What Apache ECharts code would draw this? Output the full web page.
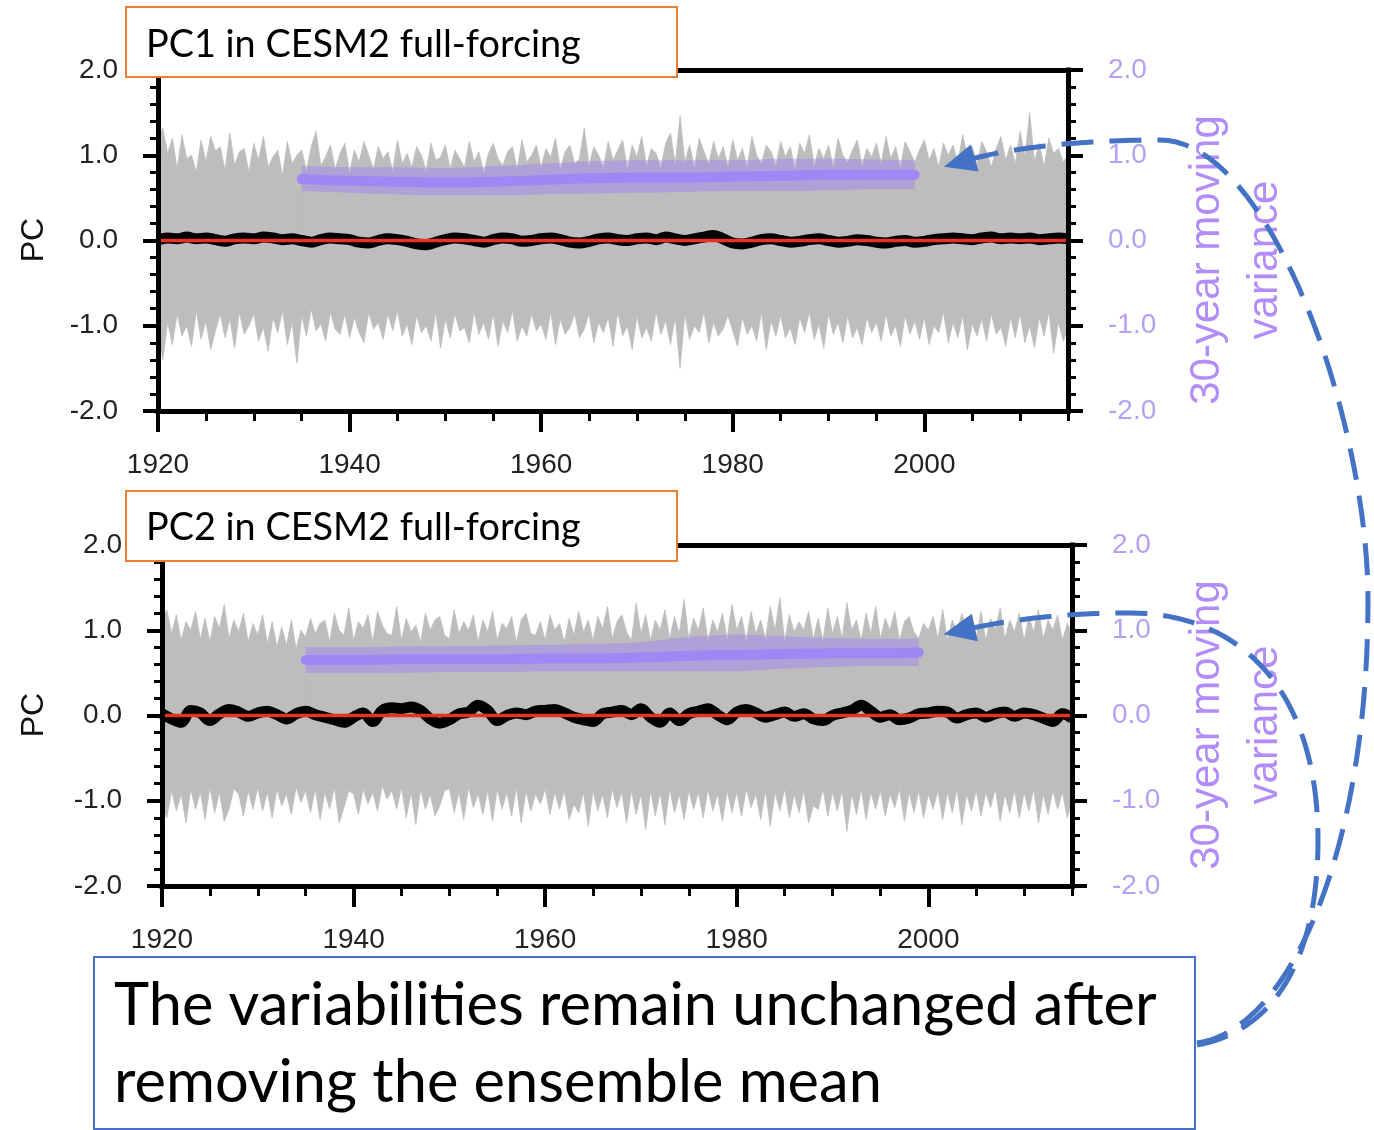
<!DOCTYPE html>
<html><head><meta charset="utf-8">
<script src="https://cdn.jsdelivr.net/npm/echarts@6/dist/echarts.min.js"></script>
<style>html,body{margin:0;padding:0;background:#fff}#c{width:1374px;height:1130px}</style>
</head><body><div id="c"></div>
<script>
// ---------------- data ----------------
const startYear = 1920, endYear = 2015;
const xTickLabels = [1920, 1940, 1960, 1980, 2000];
const yTickValues = [-2, -1, 0, 1, 2];
const panelTitles = ['PC1 in CESM2 full-forcing', 'PC2 in CESM2 full-forcing'];
const rightAxisTitle = '30-year moving\nvariance';
const leftAxisTitle = 'PC';
const noteLines = ['The variabilities remain unchanged after', 'removing the ensemble mean'];

// ensemble spread envelope (half-year steps, 1920.0 ... 2015.0)
const pc1Upper = [
1.15,1.32,1.02,1.20,0.84,1.24,0.96,1.00,0.80,1.18,
0.92,1.22,1.05,1.10,0.82,1.26,0.88,1.04,1.08,0.80,
1.14,0.94,1.22,0.86,0.98,1.06,0.76,1.16,0.90,1.00,
1.06,0.82,1.10,1.28,0.88,0.98,1.12,0.84,1.02,1.14,
0.80,1.06,0.92,1.16,1.00,0.84,1.10,0.96,1.04,0.82,
1.18,0.90,1.02,0.86,1.10,1.00,0.82,1.14,0.94,0.98,
1.12,0.84,1.06,0.96,0.86,1.16,0.92,1.04,0.80,1.02,
1.14,0.96,0.88,1.04,1.10,0.84,1.18,0.92,1.00,1.12,
0.86,1.08,0.98,1.20,0.84,1.04,1.12,0.90,0.96,1.32,
0.88,1.10,1.00,0.86,1.16,0.94,1.06,1.18,0.84,1.12,
0.98,1.22,0.88,1.08,1.02,0.86,1.14,1.26,0.90,1.46,
0.92,1.12,0.86,1.20,1.04,0.90,1.16,0.96,1.10,0.86,
1.18,0.94,1.08,0.86,1.22,1.00,0.90,1.12,1.04,0.88,
1.16,0.98,1.10,0.84,1.14,1.02,1.24,0.88,1.08,0.96,
1.12,0.86,1.20,1.00,0.92,1.06,1.18,0.88,1.08,0.98,
1.14,0.90,1.22,0.96,1.10,0.86,1.16,1.04,0.92,1.06,
1.18,0.94,1.08,0.86,1.14,1.00,1.12,0.90,1.24,0.98,
1.10,0.88,1.16,1.04,0.86,1.08,1.22,0.94,1.12,0.90,
1.28,0.98,1.50,0.92,1.14,0.86,1.20,1.02,1.08,0.92,
1.00];
const pc1Lower = [
-1.08,-1.40,-0.96,-1.22,-0.86,-1.12,-1.00,-1.24,-0.82,-1.16,
-0.94,-1.28,-1.06,-0.86,-1.14,-0.92,-1.26,-0.84,-1.10,-1.00,
-0.86,-1.18,-1.02,-1.30,-0.90,-1.08,-0.82,-1.22,-0.96,-1.44,
-0.88,-1.12,-0.80,-1.06,-0.98,-1.18,-0.84,-1.04,-1.10,-0.86,
-1.14,-0.90,-1.08,-1.20,-0.84,-1.04,-0.96,-1.16,-0.86,-1.06,
-0.82,-1.12,-0.98,-1.22,-0.88,-1.08,-1.00,-1.18,-0.84,-1.26,
-0.92,-1.14,-0.86,-1.06,-1.02,-1.20,-0.84,-1.10,-0.96,-1.16,
-0.86,-1.24,-0.94,-1.08,-0.82,-1.18,-1.00,-1.12,-0.86,-1.06,
-0.98,-1.16,-0.84,-1.22,-0.92,-1.10,-1.02,-0.86,-1.14,-1.04,
-0.86,-1.20,-0.96,-1.08,-0.90,-1.24,-0.84,-1.12,-1.00,-1.28,
-0.88,-1.14,-1.02,-1.18,-0.84,-1.10,-0.94,-1.22,-0.90,-1.50,
-0.86,-1.16,-1.00,-1.08,-0.84,-1.20,-0.96,-1.12,-1.04,-0.88,
-1.06,-1.24,-0.90,-1.10,-1.00,-1.18,-0.84,-1.28,-0.94,-1.12,
-0.88,-1.14,-1.02,-1.22,-0.90,-1.08,-0.84,-1.16,-0.98,-1.26,
-0.86,-1.10,-0.96,-1.20,-0.88,-1.14,-1.02,-1.22,-0.90,-1.08,
-0.96,-1.18,-0.86,-1.12,-1.00,-1.24,-0.88,-1.10,-0.94,-1.16,
-0.90,-1.22,-1.00,-1.08,-0.84,-1.20,-0.96,-1.14,-0.88,-1.28,
-0.98,-1.12,-0.92,-1.18,-0.86,-1.10,-1.02,-1.24,-0.90,-1.14,
-0.86,-1.20,-1.00,-1.26,-0.90,-1.12,-0.84,-1.32,-0.96,-1.18,
-1.02];
const pc2Upper = [
1.08,1.24,0.96,1.18,0.88,1.10,1.00,1.22,0.90,1.14,
0.86,1.16,1.02,1.30,0.90,1.12,0.98,1.20,0.86,1.08,
0.94,1.18,0.84,1.10,0.80,1.04,0.82,1.12,0.78,1.00,
0.92,1.14,0.96,1.08,1.12,0.86,1.20,1.00,0.94,1.26,
0.88,1.10,1.02,1.18,0.86,1.22,1.06,0.96,0.94,1.28,
0.88,1.14,0.98,1.06,0.86,1.20,1.00,1.12,1.16,0.94,
0.90,1.24,0.96,1.10,1.00,1.18,0.86,1.12,0.98,1.22,
0.88,1.08,1.02,1.16,0.86,1.12,1.20,0.96,0.94,1.10,
0.88,1.18,1.00,1.08,0.86,1.14,0.94,1.22,0.98,1.12,
0.88,1.16,1.02,1.28,0.90,1.10,1.18,0.98,0.88,1.32,
0.96,1.18,0.88,1.12,1.00,1.24,0.90,1.16,0.96,1.36,
0.90,1.14,1.00,1.26,0.88,1.12,0.98,1.20,0.90,1.30,
1.00,1.16,0.88,1.22,0.96,1.12,0.90,1.28,1.00,1.38,
0.88,1.18,0.98,1.10,1.00,1.22,0.90,1.14,0.88,1.26,
0.96,1.16,0.90,1.32,1.00,1.12,0.88,1.20,0.96,1.28,
0.90,1.14,1.00,1.22,0.88,1.10,1.16,0.98,0.90,1.08,
1.00,1.16,0.90,1.24,0.88,1.12,0.98,1.20,1.00,1.10,
0.90,1.22,0.88,1.14,1.00,1.26,0.90,1.12,0.98,1.20,
0.88,1.16,0.98,1.24,0.90,1.12,1.00,1.18,0.88,1.08,
0.98];
const pc2Lower = [
-1.00,-1.20,-0.88,-1.12,-0.92,-1.26,-0.86,-1.10,-0.90,-1.22,
-0.84,-1.14,-0.90,-1.24,-1.10,-0.86,-0.92,-1.18,-0.88,-1.10,
-0.84,-1.12,-0.90,-1.20,-0.86,-1.06,-0.92,-1.16,-0.84,-1.02,
-0.88,-1.14,-0.86,-1.22,-0.90,-1.10,-0.84,-1.26,-1.08,-0.88,
-0.92,-1.16,-0.86,-1.04,-0.90,-1.12,-0.82,-0.98,-0.88,-1.10,
-0.84,-1.20,-0.90,-1.28,-0.86,-1.10,-0.92,-1.18,-1.06,-0.88,
-0.86,-1.14,-0.90,-1.22,-0.84,-1.08,-0.92,-1.16,-0.88,-1.24,
-0.86,-1.10,-0.90,-1.18,-0.84,-1.26,-0.88,-1.12,-0.92,-1.04,
-0.86,-1.16,-0.90,-1.10,-0.88,-1.22,-1.04,-1.14,-0.90,-1.30,
-0.88,-1.12,-0.92,-1.20,-0.86,-1.08,-0.90,-1.26,-0.88,-1.16,
-0.92,-1.34,-0.88,-1.18,-0.90,-1.28,-0.86,-1.14,-0.92,-1.22,
-0.88,-1.10,-0.90,-1.20,-0.86,-1.12,-0.92,-1.24,-0.88,-1.14,
-0.90,-1.18,-0.86,-1.08,-0.92,-1.22,-0.88,-1.30,-0.90,-1.12,
-0.86,-1.20,-0.92,-1.14,-0.88,-1.26,-1.06,-1.10,-0.86,-1.18,
-0.90,-1.12,-0.88,-1.36,-0.92,-1.16,-0.86,-1.22,-0.90,-1.10,
-0.88,-1.18,-0.92,-1.08,-0.86,-1.24,-0.90,-1.14,-0.88,-1.20,
-0.92,-1.10,-0.88,-1.22,-0.90,-1.14,-0.86,-1.28,-0.92,-1.12,
-0.88,-1.18,-0.90,-1.08,-0.86,-1.24,-0.92,-1.14,-0.88,-1.20,
-0.90,-1.12,-0.86,-1.26,-0.92,-1.16,-0.88,-1.10,-0.90,-1.20,
-1.00];

// ensemble-mean residual (annual, 1920 ... 2015)
const pc1Mean = [
0.01,0.03,0.02,0.04,0.02,0.03,0.01,-0.01,0.02,0.03,
0.02,0.04,0.03,0.01,0.02,0.00,-0.02,0.01,0.03,0.02,
0.01,-0.02,-0.03,0.00,0.02,0.01,-0.01,-0.04,-0.05,-0.02,
0.01,0.03,0.02,0.00,-0.02,0.01,0.03,0.02,-0.01,0.00,
0.02,0.03,0.01,-0.02,-0.03,-0.01,0.02,0.03,0.01,0.00,
0.02,0.03,0.01,0.04,0.02,0.00,0.02,0.04,0.06,0.02,
-0.03,-0.04,-0.02,0.01,0.02,0.00,-0.02,-0.01,0.01,0.02,
0.00,-0.02,-0.01,0.01,0.00,-0.02,-0.03,-0.01,0.00,-0.02,
-0.01,0.01,0.02,0.03,0.02,0.01,0.03,0.04,0.02,0.03,
0.02,0.03,0.01,0.02,0.03,0.02];
const pc2Mean = [
0.02,-0.04,-0.08,0.06,0.03,-0.06,0.02,0.07,0.04,-0.01,
0.03,0.05,0.01,-0.04,0.02,0.05,0.01,-0.02,-0.05,-0.08,
-0.02,0.03,-0.07,0.06,0.09,0.08,0.10,0.06,-0.04,-0.09,
-0.05,0.02,0.04,0.12,0.06,-0.06,0.00,0.03,0.01,0.05,
0.06,0.07,0.03,-0.02,-0.05,-0.07,0.02,0.04,0.06,0.01,
0.08,-0.02,-0.08,0.03,-0.06,0.02,0.05,0.08,0.01,-0.05,
0.04,0.07,0.03,-0.02,0.01,0.04,-0.01,0.02,-0.04,-0.06,
0.00,0.03,0.06,0.12,0.05,-0.02,0.01,-0.05,-0.03,0.02,
0.03,0.05,0.04,-0.03,0.01,0.03,-0.02,0.02,0.04,-0.01,
0.03,0.01,-0.03,-0.07,0.02,-0.03];

// 30-year moving variance (right axis)
const varYears = [1935,1940,1945,1950,1955,1960,1965,1970,1975,1980,1985,1990,1995,1999];
const pc1Var     = [0.72,0.70,0.69,0.68,0.69,0.71,0.73,0.74,0.74,0.75,0.76,0.77,0.77,0.77];
const pc1VarHigh = [0.87,0.86,0.86,0.85,0.87,0.90,0.93,0.94,0.94,0.94,0.96,0.96,0.95,0.94];
const pc1VarLow  = [0.58,0.56,0.54,0.53,0.53,0.54,0.55,0.56,0.57,0.58,0.58,0.59,0.60,0.60];
const pc2Var     = [0.65,0.65,0.66,0.66,0.66,0.67,0.67,0.68,0.70,0.71,0.72,0.73,0.73,0.74];
const pc2VarHigh = [0.80,0.80,0.81,0.81,0.82,0.83,0.84,0.86,0.92,0.95,0.93,0.91,0.90,0.90];
const pc2VarLow  = [0.50,0.50,0.50,0.51,0.51,0.52,0.52,0.52,0.52,0.52,0.55,0.57,0.58,0.58];

const zeroLine = [[startYear, 0], [endYear, 0]];

// ---------------- helpers ----------------
const halfYear = v => v.map((y, i) => [startYear + i * 0.5, y]);
const annual = v => v.map((y, i) => [startYear + i, y]);
const byVarYear = v => v.map((y, i) => [varYears[i], y]);

const panels = [
  {up: pc1Upper, lo: pc1Lower, mean: pc1Mean, v: pc1Var, vh: pc1VarHigh, vl: pc1VarLow,
   grid: {left: 158, top: 70}, boxY: 7, titleY: 45, pcY: 240, rtY: 260},
  {up: pc2Upper, lo: pc2Lower, mean: pc2Mean, v: pc2Var, vh: pc2VarHigh, vl: pc2VarLow,
   grid: {left: 162, top: 545}, boxY: 491, titleY: 528, pcY: 715, rtY: 725}
];
const PLOT_W = 910, PLOT_H = 341;
const AXIS_FONT = 'Liberation Sans, Arial, Helvetica, sans-serif';
const SLIDE_FONT = 'Lato, Carlito, Calibri, "Noto Sans", sans-serif';
const labelColor = '#222';
const purpleText = '#b28cf7';
const purpleLabel = '#b6a0f4';
const arrowBlue = '#4472C4';
const spreadGray = '#bdbdbd';

function fitSize(text, family, targetW) {
  const ctx = document.createElement('canvas').getContext('2d');
  ctx.font = '100px ' + family;
  return 100 * targetW / ctx.measureText(text).width;
}

const grids = [], xAxes = [], yAxes = [], series = [];
panels.forEach((p, g) => {
  grids.push({left: p.grid.left, top: p.grid.top, width: PLOT_W, height: PLOT_H, containLabel: false});
  const frame = {show: true, onZero: false, lineStyle: {color: '#000', width: 5, cap: 'square'}};
  xAxes.push({type: 'value', gridIndex: g, position: 'bottom', min: startYear, max: endYear, interval: 5,
    axisLine: frame, axisTick: {show: true, length: 10, lineStyle: {color: '#000', width: 3}},
    axisLabel: {show: false}, splitLine: {show: false}, z: 10});
  xAxes.push({type: 'value', gridIndex: g, position: 'bottom', min: startYear, max: endYear, interval: 20,
    axisLine: {show: false, onZero: false},
    axisTick: {show: true, length: 21, customValues: xTickLabels, lineStyle: {color: '#000', width: 4}},
    axisLabel: {show: true, customValues: xTickLabels, margin: 40, fontSize: 28, color: labelColor,
      fontFamily: AXIS_FONT, formatter: v => (xTickLabels.indexOf(v) >= 0 ? String(v) : '')},
    splitLine: {show: false}, z: 10});
  xAxes.push({type: 'value', gridIndex: g, position: 'top', min: startYear, max: endYear,
    axisLine: frame, axisTick: {show: false}, axisLabel: {show: false}, splitLine: {show: false}, z: 10});
  const yCommon = {type: 'value', gridIndex: g, min: yTickValues[0], max: yTickValues[yTickValues.length - 1], interval: 1,
    axisLine: frame, axisTick: {show: true, length: 15, lineStyle: {color: '#000', width: 4}},
    minorTick: {show: true, splitNumber: 5, length: 8, lineStyle: {color: '#000', width: 3}},
    splitLine: {show: false}, minorSplitLine: {show: false}, z: 10};
  yAxes.push(Object.assign({}, yCommon, {position: 'left',
    axisLabel: {margin: 40, fontSize: 28, color: labelColor, fontFamily: AXIS_FONT, formatter: v => v.toFixed(1)}}));
  yAxes.push(Object.assign({}, yCommon, {position: 'right',
    axisLabel: {margin: 40, fontSize: 28, color: purpleLabel, fontFamily: AXIS_FONT, formatter: v => v.toFixed(1)}}));

  const xi = g * 3, yl = g * 2, yr = g * 2 + 1;
  const base = {type: 'line', xAxisIndex: xi, symbol: 'none', silent: true, animation: false};
  series.push(Object.assign({}, base, {yAxisIndex: yl, data: halfYear(p.up),
    lineStyle: {width: 0.8, color: spreadGray}, areaStyle: {color: spreadGray, opacity: 1}}));
  series.push(Object.assign({}, base, {yAxisIndex: yl, data: halfYear(p.lo),
    lineStyle: {width: 0.8, color: spreadGray}, areaStyle: {color: spreadGray, opacity: 1}}));
  // variance band: translucent fill from 0 up to the high edge, gray restored from 0 to the low edge
  series.push(Object.assign({}, base, {yAxisIndex: yr, data: byVarYear(p.vh), smooth: 0.3,
    lineStyle: {width: 0, opacity: 0}, areaStyle: {color: 'rgba(155,120,250,0.42)', opacity: 1}}));
  series.push(Object.assign({}, base, {yAxisIndex: yr, data: byVarYear(p.vl), smooth: 0.3,
    lineStyle: {width: 0, opacity: 0}, areaStyle: {color: spreadGray, opacity: 1}}));
  series.push(Object.assign({}, base, {yAxisIndex: yr, data: byVarYear(p.v), smooth: 0.3,
    lineStyle: {width: 10, color: '#a087f6', cap: 'round', join: 'round'}}));
  series.push(Object.assign({}, base, {yAxisIndex: yl, data: annual(p.mean), smooth: 0.35,
    lineStyle: {width: 11, color: '#000', join: 'round'}}));
  series.push(Object.assign({}, base, {yAxisIndex: yl, data: zeroLine,
    lineStyle: {width: 3.5, color: '#e8331f'}}));
});

// ---------------- annotations ----------------
const graphic = [];
const titleSize = fitSize(panelTitles[0], SLIDE_FONT, 435);
panels.forEach((p, g) => {
  graphic.push({type: 'rect', z: 100, shape: {x: 126, y: p.boxY, width: 551, height: 70},
    style: {fill: '#fff', stroke: '#ED7D31', lineWidth: 2}});
  graphic.push({type: 'text', z: 101, x: 146, y: p.titleY,
    style: {text: panelTitles[g], fontSize: titleSize, fontFamily: SLIDE_FONT, fill: '#000', verticalAlign: 'middle', align: 'left'}});
  graphic.push({type: 'text', z: 101, x: 34, y: p.pcY, rotation: Math.PI / 2,
    style: {text: leftAxisTitle, fontSize: 32, fontFamily: AXIS_FONT, fill: '#111', align: 'center', verticalAlign: 'middle'}});
  graphic.push({type: 'text', z: 101, x: 1236, y: p.rtY, rotation: Math.PI / 2,
    style: {text: rightAxisTitle, fontSize: 42, lineHeight: 58, fontFamily: AXIS_FONT, fill: purpleText, align: 'center', verticalAlign: 'middle'}});
});
const noteSize = fitSize(noteLines[0], SLIDE_FONT, 1043);
graphic.push({type: 'rect', z: 100, shape: {x: 94, y: 957, width: 1101, height: 172},
  style: {fill: '#fff', stroke: '#4472C4', lineWidth: 2}});
graphic.push({type: 'text', z: 101, x: 114, y: 1006,
  style: {text: noteLines[0], fontSize: noteSize, fontFamily: SLIDE_FONT, fill: '#000', verticalAlign: 'middle'}});
graphic.push({type: 'text', z: 101, x: 114, y: 1083,
  style: {text: noteLines[1], fontSize: noteSize, fontFamily: SLIDE_FONT, fill: '#000', verticalAlign: 'middle'}});

function sampleBeziers(start, segs) {
  const pts = [start.slice()];
  let p0 = start;
  segs.forEach(s => {
    const [c1, c2, p3] = s;
    for (let i = 1; i <= 40; i++) {
      const t = i / 40, u = 1 - t;
      pts.push([u*u*u*p0[0] + 3*u*u*t*c1[0] + 3*u*t*t*c2[0] + t*t*t*p3[0],
                u*u*u*p0[1] + 3*u*u*t*c1[1] + 3*u*t*t*c2[1] + t*t*t*p3[1]]);
    }
    p0 = p3;
  });
  return pts;
}
function arrowHead(ctrl, end, ext, len, half) {
  const dx = end[0] - ctrl[0], dy = end[1] - ctrl[1], n = Math.hypot(dx, dy);
  const ux = dx / n, uy = dy / n;
  const tip = [end[0] + ux * ext, end[1] + uy * ext];
  const b = [tip[0] - ux * len, tip[1] - uy * len];
  return [tip, [b[0] - uy * half, b[1] + ux * half], [b[0] + uy * half, b[1] - ux * half]];
}
const curves = [
  {start: [1197, 1043], segs: [[[1290, 1030], [1368, 850], [1368, 600]], [[1368, 420], [1270, 140], [1160, 140]], [[1080, 140], [1010, 148], [968, 160]]]},
  {start: [1197, 1045], segs: [[[1280, 1030], [1318, 950], [1318, 840]], [[1318, 690], [1240, 613], [1130, 613]], [[1060, 613], [1010, 620], [968, 629]]]}
];
curves.forEach(c => {
  graphic.push({type: 'polyline', z: 102, shape: {points: sampleBeziers(c.start, c.segs)},
    style: {stroke: arrowBlue, lineWidth: 5, lineDash: [32, 16], fill: null}});
  const last = c.segs[c.segs.length - 1];
  graphic.push({type: 'polygon', z: 102, shape: {points: arrowHead(last[1], last[2], 25, 32, 14)},
    style: {fill: arrowBlue, stroke: null}});
});

const chart = echarts.init(document.getElementById('c'), null, {renderer: 'canvas'});
chart.setOption({
  backgroundColor: '#fff',
  animation: false,
  grid: grids, xAxis: xAxes, yAxis: yAxes, series: series, graphic: graphic
});
</script>
</body></html>
